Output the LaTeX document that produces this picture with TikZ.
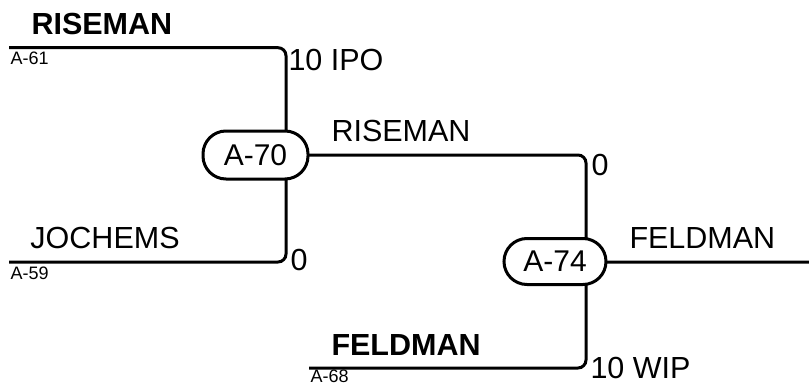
\documentclass[tikz,border=0pt]{standalone}
\usepackage{fontspec}
\setmainfont{Liberation Sans}
\usetikzlibrary{backgrounds}
\begin{document}
\begin{tikzpicture}[x=1pt,y=-1pt,line width=3pt,
  jnode/.style={draw,fill=white,line width=3pt,rounded corners=23pt,inner sep=0pt,
    font=\fontsize{30}{36}\selectfont},
  lbl/.style={anchor=base west,inner sep=0pt,font=\fontsize{30.5}{36}\selectfont},
  blbl/.style={anchor=base west,inner sep=0pt,font=\fontsize{30.5}{36}\selectfont\bfseries},
  slbl/.style={anchor=base west,inner sep=0pt,font=\fontsize{18}{22}\selectfont},
  conn/.style={line width=3pt,rounded corners=8pt}]
\useasboundingbox (0,0) rectangle (809,386);
\node[jnode,minimum width=105pt,minimum height=48pt] (A70) at (255.5,155) {A-70};
\node[jnode,minimum width=102pt,minimum height=46pt] (A74) at (555,261.5) {A-74};
\coordinate (L61) at (9,47.7);
\coordinate (L59) at (9,262);
\coordinate (L68) at (309,368);
\coordinate (R74) at (809,262);
\begin{scope}[on background layer]
\draw[conn] (L61) -| ([xshift=30.5pt]A70.center);
\draw[conn] (L59) -| ([xshift=30.5pt]A70.center);
\draw[conn] (A70.center) -| ([xshift=31pt]A74.center);
\draw[conn] (L68) -| ([xshift=31pt]A74.center);
\draw[conn] (A74.center) |- (R74);
\end{scope}
\node[blbl] (t1) at (30,34) {RISEMAN};
\node[slbl] (t2) at (9,64) {A-61};
\node[lbl] (t3) at (287,70) {10 IPO};
\node[lbl] (t4) at (330,141) {RISEMAN};
\node[lbl] (t5) at (289,270) {0};
\node[lbl] (t6) at (29,248) {JOCHEMS};
\node[slbl] (t7) at (9,279) {A-59};
\node[lbl] (t8) at (628,248) {FELDMAN};
\node[lbl] (t9) at (590,175) {0};
\node[blbl] (t10) at (330,355) {FELDMAN};
\node[lbl] (t11) at (589,378) {10 WIP};
\node[slbl] (t12) at (309,382.5) {A-68};
\end{tikzpicture}
\end{document}
